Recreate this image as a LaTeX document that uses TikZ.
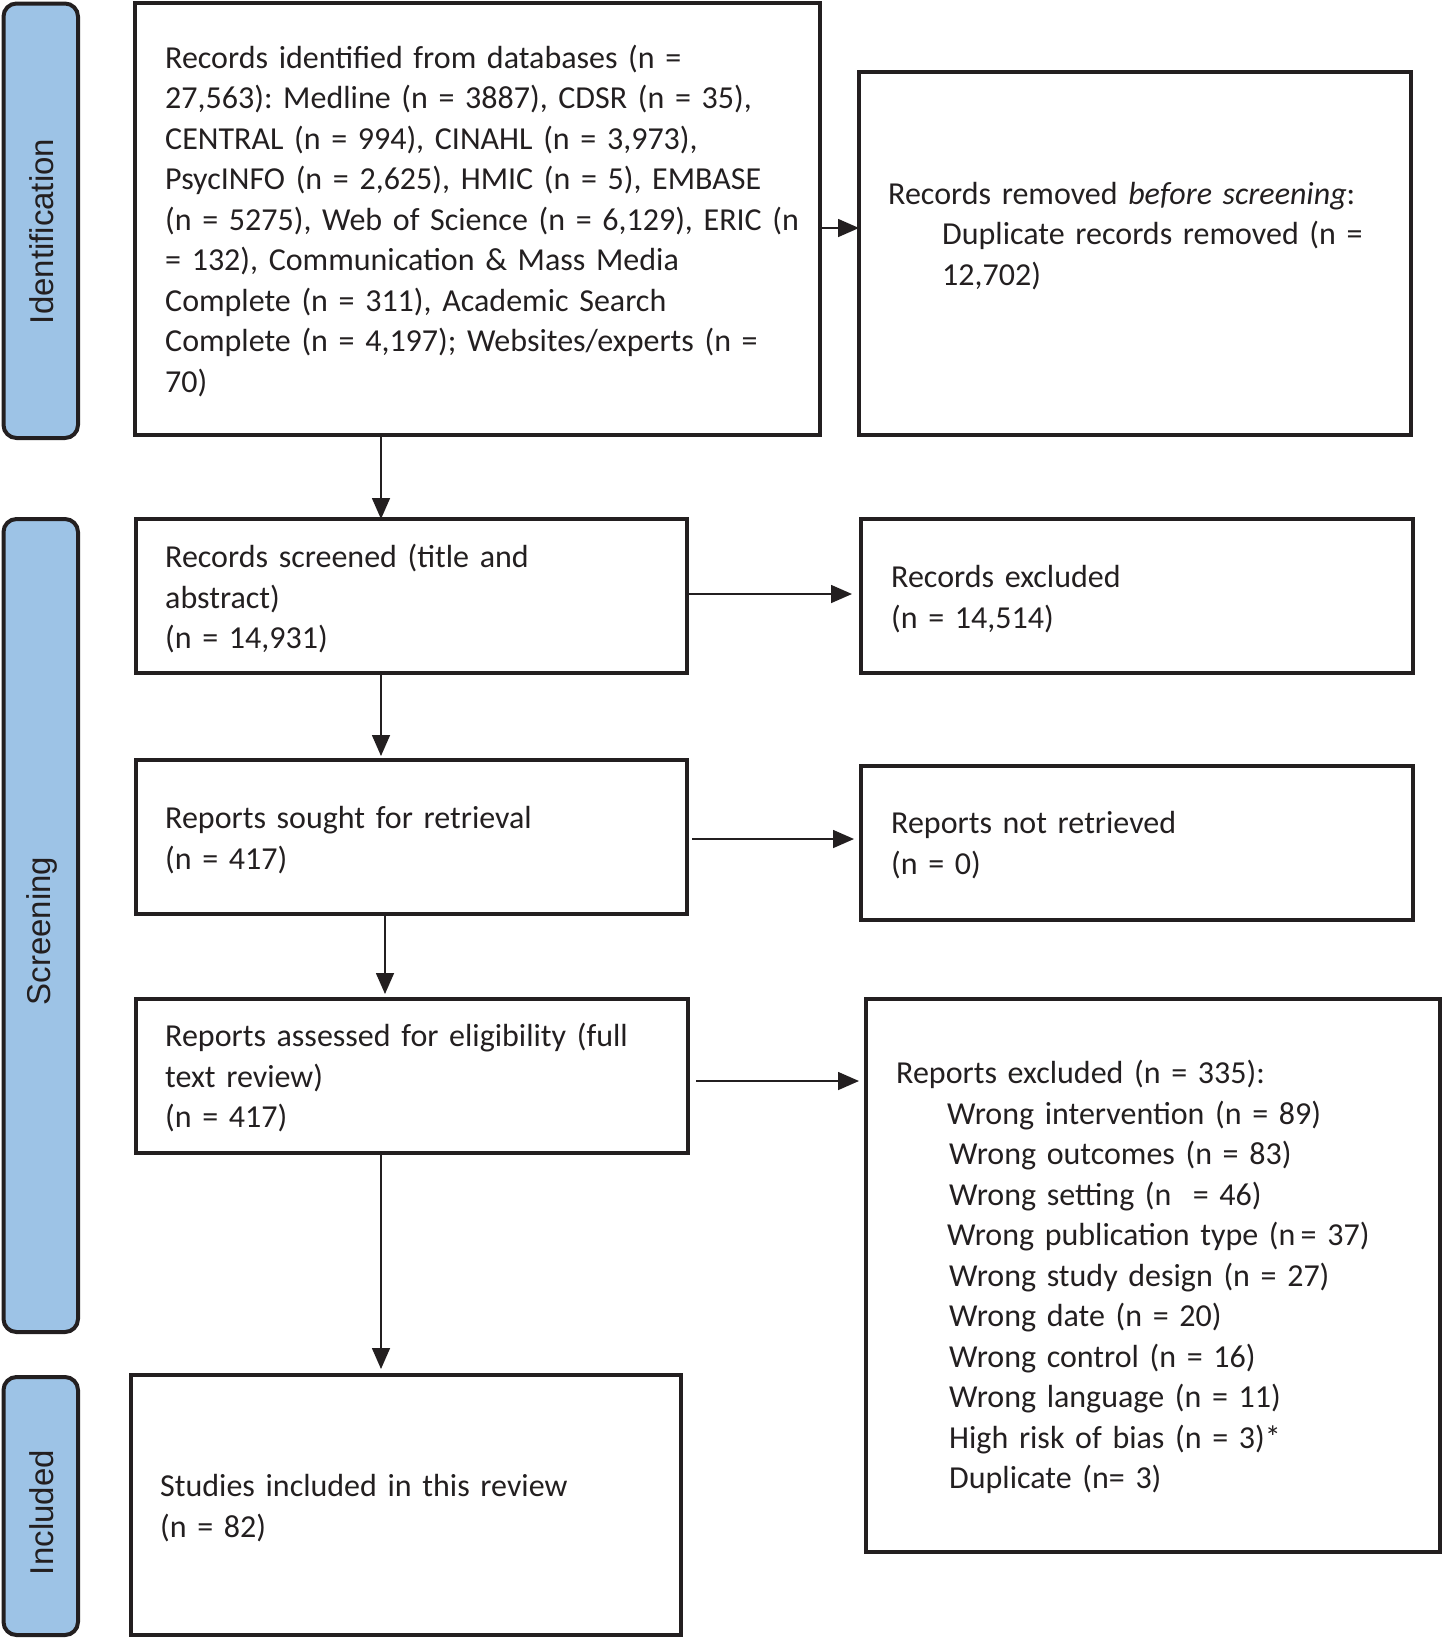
\documentclass[tikz,border=0pt]{standalone}
\usepackage{fontspec}
\setmainfont{Carlito}
\newfontfamily\sidefont{Liberation Sans}
\usetikzlibrary{arrows.meta}
\definecolor{ink}{HTML}{231F20}
\definecolor{barblue}{HTML}{9DC3E6}
\frenchspacing
\begin{document}
\begin{tikzpicture}[x=1pt,y=-1pt,
  box/.style={draw=ink, line width=3.3pt, anchor=north west, inner sep=0pt, outer sep=0pt},
  bar/.style={draw=ink, fill=barblue, line width=4pt, rounded corners=13pt, anchor=north west, inner sep=0pt, outer sep=0pt},
  txt/.style={anchor=base west, inner sep=0pt, text=ink, align=left, text width=700pt, font=\fontsize{32}{40.5}\selectfont\frenchspacing},
  side/.style={rotate=90, text=ink, inner sep=0pt, font=\sidefont\fontsize{33}{40}\selectfont},
  arr/.style={draw=ink, line width=1.6pt, -{Triangle[length=21pt,width=18pt]}}]
\useasboundingbox (0,0) rectangle (1442,1639);

% phase bars
\node[bar, minimum width=74.5pt, minimum height=434.5pt] (bar1) at (3.5,3.5) {};
\node[bar, minimum width=74.5pt, minimum height=813pt] (bar2) at (3.5,519) {};
\node[bar, minimum width=74.5pt, minimum height=258pt] (bar3) at (3.5,1377) {};
\node[side] (l1) at (41.8,231.5) {Identification};
\node[side] (l2) at (41.8,931) {Screening};
\node[side] (l3) at (41.8,1512.6) {Included};

% boxes
\node[box, minimum width=685pt, minimum height=432pt] (b1) at (135,3) {};
\node[box, minimum width=552pt, minimum height=363pt] (b2) at (859,72) {};
\node[box, minimum width=551pt, minimum height=154pt] (b3) at (136,519) {};
\node[box, minimum width=552pt, minimum height=154pt] (b4) at (861,519) {};
\node[box, minimum width=551pt, minimum height=154pt] (b5) at (136,760) {};
\node[box, minimum width=552pt, minimum height=154pt] (b6) at (861,766) {};
\node[box, minimum width=552pt, minimum height=154pt] (b7) at (136,999) {};
\node[box, minimum width=574pt, minimum height=553pt] (b8) at (866,999) {};
\node[box, minimum width=550pt, minimum height=260pt] (b9) at (131,1375) {};

% texts
\node[txt] (t1) at (165,68) {Records identified from databases (n =\\
27,563): Medline (n = 3887), CDSR (n = 35),\\
CENTRAL (n = 994), CINAHL (n = 3,973),\\
PsycINFO (n = 2,625), HMIC (n = 5), EMBASE\\
(n = 5275), Web of Science (n = 6,129), ERIC (n\\
= 132), Communication \& Mass Media\\
Complete (n = 311), Academic Search\\
Complete (n = 4,197); Websites/experts (n =\\
70)};
\node[txt] (t2) at (888,204) {Records removed \textit{before screening}:\\
\hspace*{54pt}Duplicate records removed (n =\\
\hspace*{54pt}12,702)};
\node[txt] (t3) at (165,567.5) {Records screened (title and\\
abstract)\\
(n = 14,931)};
\node[txt] (t4) at (891,587.5) {Records excluded\\
(n = 14,514)};
\node[txt] (t5) at (165,828.5) {Reports sought for retrieval\\
(n = 417)};
\node[txt] (t6) at (891,833.5) {Reports not retrieved\\
(n = 0)};
\node[txt] (t7) at (165,1046.5) {Reports assessed for eligibility (full\\
text review)\\
(n = 417)};
\node[txt] (t8) at (896,1083.5) {Reports excluded (n = 335):\\
\hspace*{51pt}Wrong intervention (n = 89)\\
\hspace*{53pt}Wrong outcomes (n = 83)\\
\hspace*{53pt}Wrong setting (n \ = 46)\\
\hspace*{51pt}Wrong publication type (n\,= 37)\\
\hspace*{53pt}Wrong study design (n = 27)\\
\hspace*{53pt}Wrong date (n = 20)\\
\hspace*{53pt}Wrong control (n = 16)\\
\hspace*{53pt}Wrong language (n = 11)\\
\hspace*{53pt}High risk of bias (n = 3)*\\
\hspace*{53pt}Duplicate (n= 3)};
\node[txt] (t9) at (160,1496.5) {Studies included in this review\\
(n = 82)};

% connectors
\draw[arr] (b1.south -| 381,0) -- (b3.north -| 381,0);
\draw[arr, shorten >=4pt] (b3.south -| 381,0) -- (b5.north -| 381,0);
\draw[arr, shorten >=5pt] (b5.south -| 385,0) -- (b7.north -| 385,0);
\draw[arr, shorten >=6pt] (b7.south -| 381,0) -- (b9.north -| 381,0);
\draw[arr] (b1.east |- 0,228) -- (b2.west |- 0,228);
\draw[arr, shorten <=2pt, shorten >=9pt] (b3.east |- 0,594) -- (b4.west |- 0,594);
\draw[arr, shorten <=5pt, shorten >=7pt] (b5.east |- 0,839) -- (b6.west |- 0,839);
\draw[arr, shorten <=8pt, shorten >=7pt] (b7.east |- 0,1081) -- (b8.west |- 0,1081);
\end{tikzpicture}
\end{document}
